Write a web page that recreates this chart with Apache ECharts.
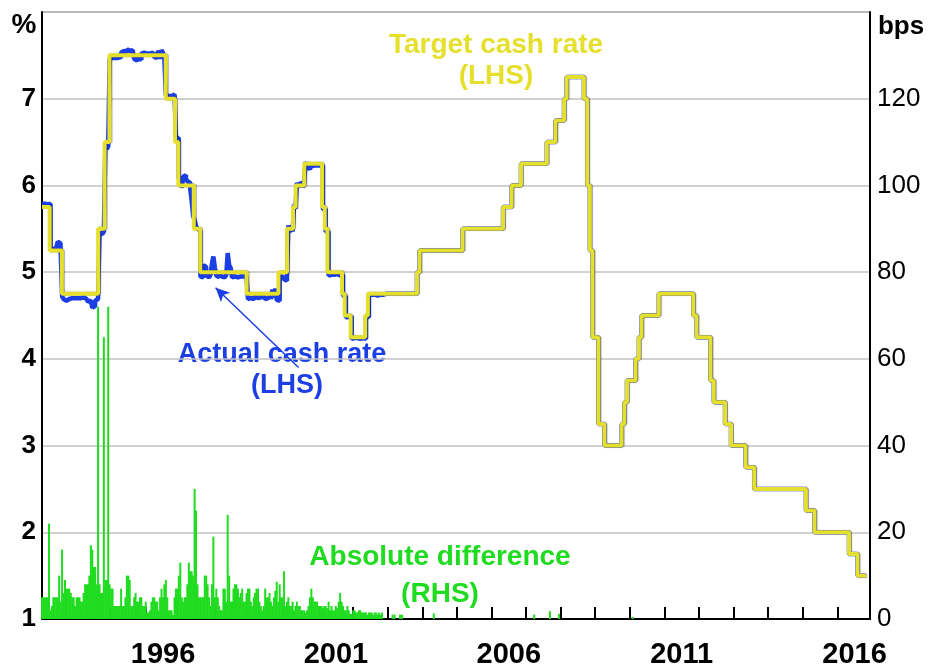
<!DOCTYPE html>
<html>
<head>
<meta charset="utf-8">
<script src="https://cdn.jsdelivr.net/npm/echarts@6/dist/echarts.min.js"></script>
<style>
  html, body { margin: 0; padding: 0; background: #fff; }
  #chart { width: 929px; height: 669px; }
</style>
</head>
<body>
<div id="chart"></div>
<script>
// RBA cash rate target, change dates (%)
const targetDates = [
  "1993-01-01", "1993-03-23", "1993-07-30", "1994-08-17", "1994-10-24", "1994-12-14",
  "1996-07-31", "1996-11-06", "1996-12-11", "1997-05-23", "1997-07-30", "1998-12-02",
  "1999-11-03", "2000-02-02", "2000-04-05", "2000-05-03", "2000-08-02", "2001-02-07",
  "2001-03-07", "2001-04-04", "2001-09-05", "2001-10-03", "2001-12-05", "2002-05-08",
  "2002-06-05", "2003-11-05", "2003-12-03", "2005-03-02", "2006-05-03", "2006-08-02",
  "2006-11-08", "2007-08-08", "2007-11-07", "2008-02-06", "2008-03-05", "2008-09-03",
  "2008-10-08", "2008-11-05", "2008-12-03", "2009-02-04", "2009-04-08", "2009-10-07",
  "2009-11-04", "2009-12-02", "2010-03-03", "2010-04-07", "2010-05-05", "2010-11-03",
  "2011-11-02", "2011-12-07", "2012-05-02", "2012-06-06", "2012-10-03", "2012-12-05",
  "2013-05-08", "2013-08-07", "2015-02-04", "2015-05-06", "2016-05-04", "2016-08-03",
];
const targetRates = [
  5.75, 5.25, 4.75, 5.5, 6.5, 7.5,
  7.0, 6.5, 6.0, 5.5, 5.0, 4.75,
  5.0, 5.5, 5.75, 6.0, 6.25, 5.75,
  5.5, 5.0, 4.75, 4.5, 4.25, 4.5,
  4.75, 5.0, 5.25, 5.5, 5.75, 6.0,
  6.25, 6.5, 6.75, 7.0, 7.25, 7.0,
  6.0, 5.25, 4.25, 3.25, 3.0, 3.25,
  3.5, 3.75, 4.0, 4.25, 4.5, 4.75,
  4.5, 4.25, 3.75, 3.5, 3.25, 3.0,
  2.75, 2.5, 2.25, 2.0, 1.75, 1.5,
];
const lastDate = "2016-10-31";

// semi-monthly samples (1st and 16th), 1993-2002
const sampleYears = [1993, 1994, 1995, 1996, 1997, 1998, 1999, 2000, 2001, 2002];

// actual minus target, bps
const actualGap = [
  4, 4, 5, 3, 4, 4, 2, 2, 3, 3, 5, 10, 8, 3, -3, -6, -8, -6, -6, -5, -5, -6, -5, -4,
  -5, -5, -5, -4, -4, -5, -6, -7, -9, -8, -10, -16, -14, -8, -6, -3, -5, -6, -4, -3, -4, -8, -5, -4,
  -3, -4, -3, -2, -3, -4, -2, 3, 5, 6, 4, 7, 5, 3, 6, 4, -4, -6, -5, -3, -5, 2, 3, 4,
  2, 3, 2, 1, 3, 4, -2, -3, 2, 5, -4, 6, 3, -3, 4, 3, 2, 3, 4, 5, 3, 4, 5, 8,
  8, -3, 10, 12, 8, 5, 3, -4, -18, -35, 10, 3, 0, -2, -5, -6, 8, 6, -4, -6, -5, -3, 10, 18,
  5, -4, -6, -3, -5, -4, -6, -5, -3, 22, 8, 5, -6, -5, -7, -6, -4, -5, -6, -5, -4, -5, -5, -6,
  -5, -4, -6, -5, -3, -5, -6, -4, -5, -3, -4, -6, -5, -4, -3, -6, 5, -4, 6, -7, -8, -6, -5, -7,
  -8, -10, -6, 4, -4, 2, -3, 3, -2, 3, -2, 2, 3, -2, 1, 2, -4, -6, -5, -3, -2, -3, -2, -2,
  -2, -3, -2, -3, -2, -3, -3, -4, -3, -2, -3, -4, -2, -3, -4, -5, -3, -2, -3, -2, -2, -2, -1, -2,
  -1, -2, -1, -1, -2, -2, -1, -2, -2, -1, -2, -2, -1, -2, -1, -1, -2, -1, -1, -1, -1, 0, 0, 0,
];

// absolute difference, bps
const absDiff = [
  5, 5, 5, 5, 5, 22, 2, 3, 5, 5, 5, 5, 10, 4, 16, 6, 9, 7, 7, 7, 6, 5, 5, 3,
  5, 5, 5, 4, 4, 6, 8, 8, 8, 10, 17, 16, 12, 12, 8, 72, 8, 6, 6, 65, 9, 9, 72, 8,
  7, 7, 3, 3, 3, 3, 3, 7, 3, 3, 5, 10, 10, 9, 3, 3, 5, 6, 4, 4, 5, 5, 3, 3,
  4, 1.5, 1.5, 2, 4, 5, 5, 4, 4, 2, 5, 7, 5, 8, 9, 5, 2, 2, 2, 1, 5, 7, 7, 10,
  13, 5, 4, 5, 5, 8, 13, 11, 11, 10, 30, 25, 8, 5, 5, 5, 5, 10, 10, 8, 5, 3, 8, 19,
  5, 7, 5, 3, 2, 2, 7, 7, 4, 24, 10, 4, 4, 7, 8, 8, 7, 5, 6, 7, 4, 4, 6, 7,
  7, 4, 3, 5, 6, 7, 7, 4, 3, 2, 3, 7, 5, 5, 6, 4, 3, 5, 6.5, 8.6, 4, 8, 5, 5,
  11, 3, 4, 5, 3, 3, 4, 2, 3, 4, 3, 3, 2, 2, 2, 1.5, 2, 3, 5, 7, 5, 4, 4, 4,
  3, 3, 3, 2.5, 3, 3, 2.5, 4, 2, 3, 2, 2, 3, 2.5, 4, 6, 4, 3, 2, 2, 3, 2, 1.2, 1.2,
  2, 2, 1.5, 1.5, 2, 2, 1.5, 1.5, 1.5, 1.5, 1, 1.5, 1.5, 1.5, 1, 1.5, 1.5, 1, 1.5, 1, 1.5, 0, 0, 0,
];
const lateDiffDates = ["2003-02-20", "2003-03-15", "2003-05-10", "2003-06-01", "2004-05-01",
  "2007-03-28", "2007-09-10", "2007-12-15", "2010-01-30"];
const lateDiffValues = [1, 1, 1, 1, 1.3, 1, 1.8, 1.2, 0.5];

const xTicksLabelled = [1996, 2001, 2006, 2011, 2016];

const FONT = "Liberation Sans";
const YELLOW = "#e5e02e";
const BLUE = "#1b3fe4";
const GREEN = "#20dc20";

function toYear(s) {
  const [y, m, d] = s.split("-").map(Number);
  const a = Date.UTC(y, 0, 1), b = Date.UTC(y + 1, 0, 1);
  return y + (Date.UTC(y, m - 1, d) - a) / (b - a);
}

function targetAt(t) {
  let r = targetRates[0];
  targetDates.forEach((d, i) => { if (toYear(d) <= t) r = targetRates[i]; });
  return r;
}

const sampleT = [];
sampleYears.forEach((y) => {
  for (let m = 1; m <= 12; m++) {
    [1, 16].forEach((d) => {
      sampleT.push(toYear(y + "-" + String(m).padStart(2, "0") + "-" + String(d).padStart(2, "0")));
    });
  }
});

const targetLine = targetDates.map((d, i) => [toYear(d), targetRates[i]]);
targetLine.push([toYear(lastDate), targetRates[targetRates.length - 1]]);

const actualLine = sampleT.map((t, i) => [t, +(targetAt(t) + actualGap[i] / 100).toFixed(3)]);
const tail = toYear("2003-01-01");
actualLine.push([tail, targetAt(tail)]);
targetLine.forEach((p) => { if (p[0] > tail) actualLine.push(p); });

const diffBars = sampleT.map((t, i) => [t, absDiff[i]]);
lateDiffDates.forEach((d, i) => diffBars.push([toYear(d), lateDiffValues[i]]));

const chart = echarts.init(document.getElementById("chart"));

const note = (x, y, text, fill, size = 28) => ({
  type: "text",
  x,
  y,
  style: { text, fill, font: "bold " + size + "px " + FONT, align: "center", verticalAlign: "middle" },
});

chart.setOption({
  animation: false,
  grid: {
    left: 42,
    right: 59,
    top: 12,
    bottom: 47,
    show: true,
    borderColor: "#444",
    borderWidth: 1.2,
  },
  xAxis: {
    type: "value",
    min: 1993,
    max: 2016.946,
    interval: 1,
    axisLine: { lineStyle: { color: "#000", width: 2 } },
    axisTick: { show: true, inside: true, length: 12, lineStyle: { color: "#000", width: 2 } },
    axisLabel: {
      formatter: (v) => (xTicksLabelled.includes(v) ? String(v) : ""),
      padding: [0, 0, 0, 34.6],
      margin: 21,
      fontSize: 29,
      fontWeight: "bold",
      fontFamily: FONT,
      color: "#000",
    },
    splitLine: { show: false },
  },
  yAxis: [
    {
      type: "value",
      min: 1,
      max: 8,
      interval: 1,
      axisLine: { show: true, lineStyle: { color: "#000", width: 2 } },
      axisTick: { show: false },
      axisLabel: {
        formatter: (v) => (v === 8 ? "" : String(v)),
        margin: 6,
        fontSize: 26,
        fontWeight: "bold",
        fontFamily: FONT,
        color: "#000",
      },
      splitLine: { show: true, lineStyle: { color: "#c2c2c2", width: 1.5 } },
    },
    {
      type: "value",
      min: 0,
      max: 140,
      interval: 20,
      position: "right",
      axisLine: { show: true, lineStyle: { color: "#000", width: 2 } },
      axisTick: { show: false },
      axisLabel: {
        formatter: (v) => (v === 140 ? "" : String(v)),
        margin: 7,
        fontSize: 26,
        fontFamily: FONT,
        color: "#000",
      },
      splitLine: { show: false },
    },
  ],
  series: [
    {
      name: "Absolute difference",
      type: "bar",
      yAxisIndex: 1,
      barWidth: 2,
      itemStyle: { color: GREEN },
      data: diffBars,
      z: 1,
    },
    {
      name: "Actual cash rate",
      type: "line",
      step: "end",
      showSymbol: false,
      lineStyle: { color: BLUE, width: 4.5 },
      data: actualLine,
      z: 3,
      markLine: {
        silent: true,
        symbol: ["none", "arrow"],
        symbolSize: [10, 14],
        label: { show: false },
        lineStyle: { color: BLUE, width: 1.5, type: "solid" },
        data: [[{ coord: [2000.42, 3.9] }, { coord: [1998.02, 4.82] }]],
      },
    },
    {
      name: "Target cash rate",
      type: "line",
      step: "end",
      showSymbol: false,
      lineStyle: {
        color: YELLOW,
        width: 4,
        shadowColor: "rgba(0,0,0,0.35)",
        shadowBlur: 1,
        shadowOffsetX: 1,
      },
      data: targetLine,
      z: 4,
    },
  ],
  graphic: [
    { type: "text", x: 24, y: 25, style: { text: "%", fill: "#000", font: "bold 28px " + FONT, align: "center", verticalAlign: "middle" } },
    { type: "text", x: 901, y: 27, style: { text: "bps", fill: "#000", font: "bold 26px " + FONT, align: "center", verticalAlign: "middle" } },
    note(496, 45, "Target cash rate", YELLOW),
    note(496, 76, "(LHS)", YELLOW),
    note(282, 355, "Actual cash rate", BLUE, 27),
    note(287, 386, "(LHS)", BLUE, 27),
    note(440, 557, "Absolute difference", GREEN),
    note(440, 594, "(RHS)", GREEN),
  ],
});
</script>
</body>
</html>
